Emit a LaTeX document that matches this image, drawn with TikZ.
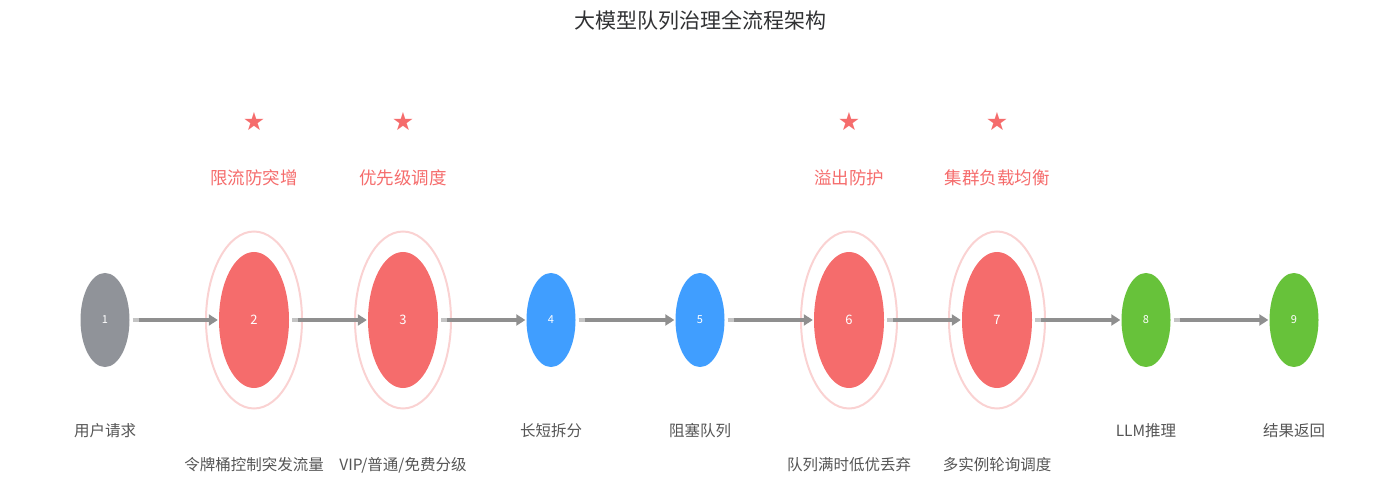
\documentclass[tikz,border=0pt]{standalone}
\usepackage{fontspec}
\setmainfont{Noto Sans CJK SC}
\newfontfamily\cjk{Noto Sans CJK SC}
\newfontfamily\symf{DejaVu Sans}
\usetikzlibrary{arrows.meta,calc,shapes.geometric}
\definecolor{cgray}{HTML}{909399}
\definecolor{cred}{HTML}{F56C6C}
\definecolor{cblue}{HTML}{409EFF}
\definecolor{cgreen}{HTML}{67C23A}
\definecolor{chalo}{HTML}{FAD2D2}
\definecolor{carrow}{HTML}{8F8F8F}
\definecolor{ctail}{HTML}{C4C4C4}
\definecolor{ctitle}{HTML}{303133}
\definecolor{clabel}{HTML}{555555}
\tikzset{
  small/.style={ellipse, minimum width=49pt, minimum height=94pt, inner sep=0pt, text=white, font=\cjk\fontsize{11}{11}\selectfont},
  big/.style={ellipse, minimum width=70pt, minimum height=136pt, inner sep=0pt, fill=cred, text=white, font=\cjk\fontsize{13}{13}\selectfont},
  halo/.style={ellipse, minimum width=96pt, minimum height=177pt, inner sep=0pt, draw=chalo, line width=2pt},
  flow/.style={draw=carrow, line width=3.5pt, -{Triangle[length=9pt,width=11pt]}, shorten >=1pt, shorten <=9pt},
  tail/.style={draw=ctail, line width=3.5pt, shorten <=3pt},
  lab/.style={text=clabel, font=\cjk\fontsize{15.5}{16}\selectfont, anchor=center},
  redlab/.style={text=cred, font=\cjk\fontsize{17.5}{18}\selectfont},
  star/.style={text=cred, font=\symf\fontsize{25}{25}\selectfont},
}
\begin{document}
\begin{tikzpicture}[x=1pt,y=-1pt]
\useasboundingbox (0,0) rectangle (1400,494);
\node[text=ctitle, font=\cjk\fontsize{21}{21}\selectfont] (title) at (700,20) {大模型队列治理全流程架构};
% halos
\node[halo] (h2) at (254,320) {};
\node[halo] (h3) at (403,320) {};
\node[halo] (h6) at (849,320) {};
\node[halo] (h7) at (997,320) {};
% nodes
\node[small, fill=cgray] (n1) at (105,320) {1};
\node[big] (n2) at (254,320) {2};
\node[big] (n3) at (403,320) {3};
\node[small, fill=cblue] (n4) at (551,320) {4};
\node[small, fill=cblue] (n5) at (700,320) {5};
\node[big] (n6) at (849,320) {6};
\node[big] (n7) at (997,320) {7};
\node[small, fill=cgreen] (n8) at (1146,320) {8};
\node[small, fill=cgreen] (n9) at (1294,320) {9};
% arrows
\foreach \a/\b in {n1/n2,n2/n3,n3/n4,n4/n5,n5/n6,n6/n7,n7/n8,n8/n9}{
  \draw[tail] (\a.east) -- ($(\a.east)+(10,0)$);
  \draw[flow] (\a) -- (\b);
}
% stars and red labels
\node[star] (s2) at (254,122) {★};
\node[star] (s3) at (403,122) {★};
\node[star] (s6) at (849,122) {★};
\node[star] (s7) at (997,122) {★};
\node[redlab] (r2) at (254,178) {限流防突增};
\node[redlab] (r3) at (403,178) {优先级调度};
\node[redlab] (r6) at (849,178) {溢出防护};
\node[redlab] (r7) at (997,178) {集群负载均衡};
% bottom labels
\node[lab] (l1) at (105,431) {用户请求};
\node[lab] (l2) at (254,465) {令牌桶控制突发流量};
\node[lab] (l3) at (403,465) {VIP/普通/免费分级};
\node[lab] (l4) at (551,431) {长短拆分};
\node[lab] (l5) at (700,431) {阻塞队列};
\node[lab] (l6) at (849,465) {队列满时低优丢弃};
\node[lab] (l7) at (997,465) {多实例轮询调度};
\node[lab] (l8) at (1146,431) {LLM推理};
\node[lab] (l9) at (1294,431) {结果返回};
\end{tikzpicture}
\end{document}
